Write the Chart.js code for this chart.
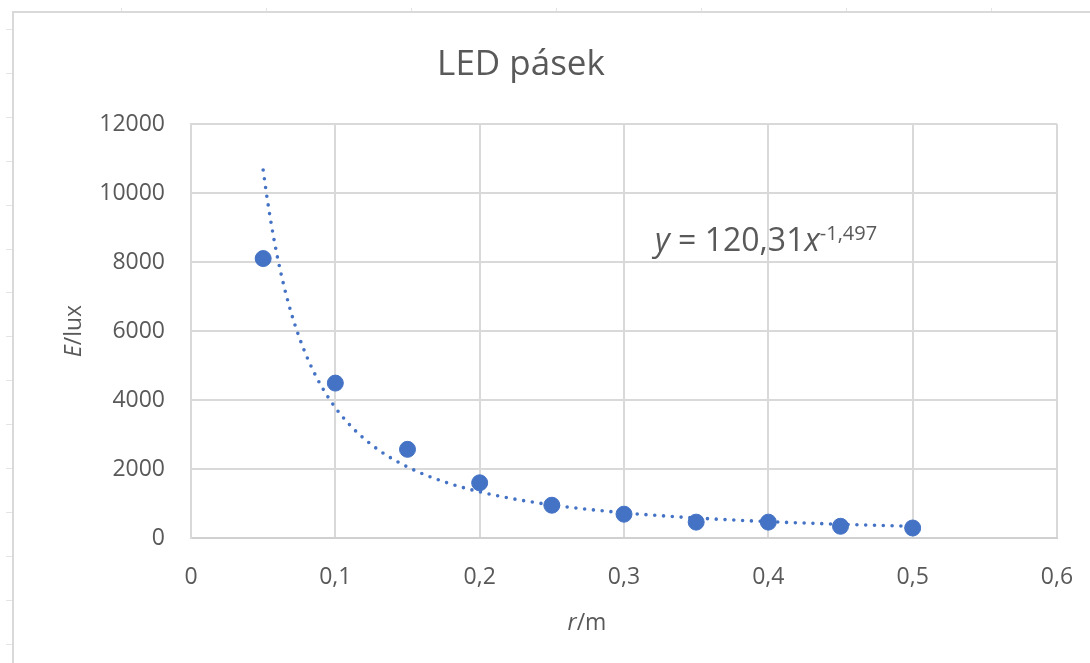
<!DOCTYPE html>
<html>
<head>
<meta charset="utf-8">
<title>LED pásek</title>
<script src="https://cdn.jsdelivr.net/npm/chart.js@4"></script>
<style>
  html, body { margin: 0; padding: 0; background: #fff; }
  #wrap { width: 1090px; height: 663px; }
</style>
</head>
<body>
<div id="wrap"><canvas id="chart" width="1090" height="663"></canvas></div>
<script>
/* LED pásek — illuminance vs distance, with power trendline */

const distances = [0.05, 0.10, 0.15, 0.20, 0.25, 0.30, 0.35, 0.40, 0.45, 0.50];
const illuminance = [8100, 4490, 2570, 1600, 950, 690, 460, 460, 340, 290];

// trendline from the label shown on the chart: y = 120,31 x^-1,497
const TREND_A = 120.31;
const TREND_B = -1.497;
const TREND_FROM = 0.05;
const TREND_TO = 0.5;

const xTicks = [0, 0.1, 0.2, 0.3, 0.4, 0.5, 0.6];
const yTicks = [0, 2000, 4000, 6000, 8000, 10000, 12000];

const TEXT = '#595959';
const GRID = '#d9d9d9';
const BLUE = '#4472c4';
const FONT = '"Open Sans", "Noto Sans", sans-serif';

const trendPoints = [];
for (let i = 0; i <= 180; i++) {
  const x = TREND_FROM + (TREND_TO - TREND_FROM) * i / 180;
  trendPoints.push({ x, y: TREND_A * Math.pow(x, TREND_B) });
}

const fmtComma = v => (v === 0 ? '0' : v.toFixed(1).replace('.', ','));

// draw a run of text pieces, some italic, starting at x
function drawRuns(ctx, runs, x, y, size) {
  let cx = x;
  runs.forEach(r => {
    const s = r.size || size;
    ctx.font = (r.italic ? 'italic ' : '') + s + 'px ' + FONT;
    ctx.fillText(r.t, cx, y - (r.rise || 0));
    cx += ctx.measureText(r.t).width;
  });
  return cx - x;
}
function runsWidth(ctx, runs, size) {
  let w = 0;
  runs.forEach(r => {
    ctx.font = (r.italic ? 'italic ' : '') + (r.size || size) + 'px ' + FONT;
    w += ctx.measureText(r.t).width;
  });
  return w;
}

const decor = {
  id: 'decor',
  beforeDraw(chart) {
    const ctx = chart.ctx;
    ctx.save();
    // sheet frame around the chart object
    ctx.strokeStyle = GRID;
    ctx.lineWidth = 2;
    ctx.beginPath();
    ctx.moveTo(13, 700);
    ctx.lineTo(13, 12);
    ctx.lineTo(1100, 12);
    ctx.stroke();
    // little row/column marks of the sheet
    ctx.lineWidth = 1;
    ctx.strokeStyle = '#e4e4e4';
    for (let y = 29; y < 663; y += 43.9) {
      ctx.beginPath(); ctx.moveTo(6, Math.round(y) + 0.5); ctx.lineTo(12, Math.round(y) + 0.5); ctx.stroke();
    }
    for (let x = 121; x < 1090; x += 145) {
      ctx.beginPath(); ctx.moveTo(Math.round(x) + 0.5, 8); ctx.lineTo(Math.round(x) + 0.5, 11); ctx.stroke();
    }
    ctx.restore();
  },
  afterDraw(chart) {
    const ctx = chart.ctx;
    ctx.save();
    ctx.fillStyle = TEXT;
    ctx.textBaseline = 'alphabetic';
    ctx.textAlign = 'left';

    // title
    ctx.font = '35px ' + FONT;
    const title = 'LED pásek';
    const tw = ctx.measureText(title).width;
    ctx.fillText(title, 521 - tw / 2, 75);

    // y axis title  E/lux
    const yRuns = [{ t: 'E', italic: true }, { t: '/lux' }];
    ctx.save();
    ctx.translate(81, 331);
    ctx.rotate(-Math.PI / 2);
    const yw = runsWidth(ctx, yRuns, 23);
    drawRuns(ctx, yRuns, -yw / 2, 0, 23);
    ctx.restore();

    // x axis title  r/m
    const xRuns = [{ t: 'r', italic: true }, { t: '/m' }];
    const xw = runsWidth(ctx, xRuns, 23);
    drawRuns(ctx, xRuns, 587 - xw / 2, 630, 23);

    // trendline equation
    const eq = [
      { t: 'y', italic: true },
      { t: ' = 120,31' },
      { t: 'x', italic: true },
      { t: '-1,497', size: 20, rise: 11 }
    ];
    drawRuns(ctx, eq, 655, 251, 32);
    ctx.restore();
  }
};

new Chart(document.getElementById('chart'), {
  type: 'scatter',
  data: {
    datasets: [
      {
        label: 'E',
        data: distances.map((x, i) => ({ x, y: illuminance[i] })),
        backgroundColor: BLUE,
        borderColor: BLUE,
        borderWidth: 1,
        pointRadius: 8,
        pointHoverRadius: 8
      },
      {
        label: 'trend',
        data: trendPoints,
        showLine: true,
        pointRadius: 0,
        borderColor: BLUE,
        borderWidth: 3.6,
        borderDash: [0, 8.8],
        borderCapStyle: 'round',
        fill: false,
        tension: 0
      }
    ]
  },
  options: {
    responsive: false,
    animation: false,
    events: [],
    layout: { padding: { left: 0, right: 33, top: 124, bottom: 0 } },
    plugins: {
      legend: { display: false },
      title: { display: false },
      tooltip: { enabled: false }
    },
    scales: {
      x: {
        type: 'linear',
        min: 0,
        max: 0.6,
        afterBuildTicks: s => { s.ticks = xTicks.map(v => ({ value: v })); },
        afterFit: s => { s.height = 125; s.paddingLeft = 0; s.paddingRight = 0; },
        grid: { color: GRID, lineWidth: 2, drawTicks: false },
        border: { color: '#d0d0d0', width: 2 },
        ticks: {
          color: TEXT,
          font: { family: FONT, size: 23 },
          padding: 26,
          callback: v => fmtComma(v)
        }
      },
      y: {
        type: 'linear',
        min: 0,
        max: 12000,
        afterBuildTicks: s => { s.ticks = yTicks.map(v => ({ value: v })); },
        afterFit: s => { s.width = 191; s.paddingTop = 0; s.paddingBottom = 0; },
        grid: { color: GRID, lineWidth: 2, drawTicks: false },
        border: { color: GRID, width: 2 },
        ticks: {
          color: TEXT,
          font: { family: FONT, size: 23 },
          padding: 26,
          callback: v => String(v)
        }
      }
    }
  },
  plugins: [decor]
});
</script>
</body>
</html>
